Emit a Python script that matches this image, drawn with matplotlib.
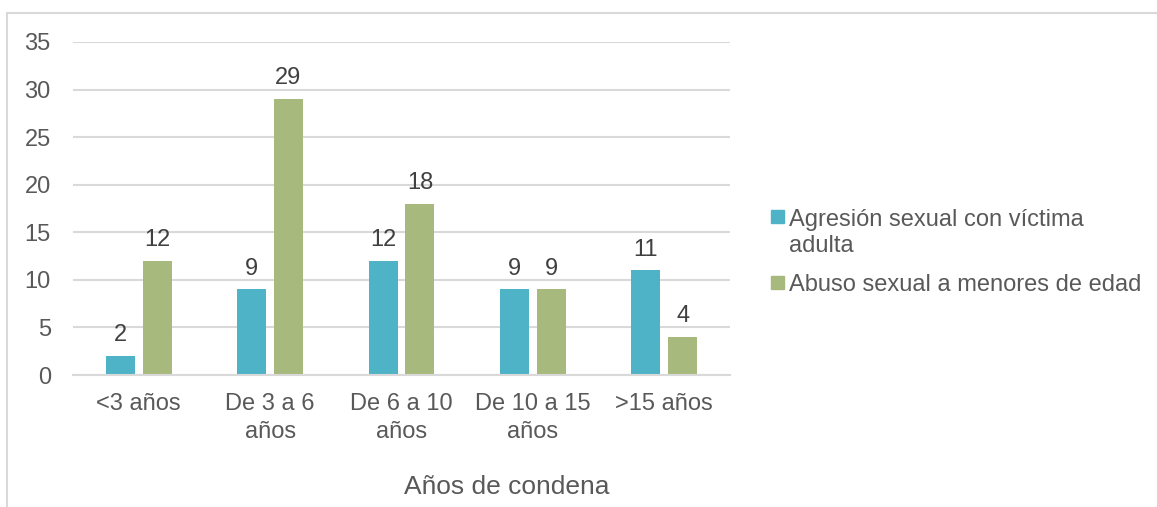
import matplotlib.pyplot as plt
import numpy as np
from matplotlib.patches import Rectangle

categories = ["<3 años", "De 3 a 6\naños", "De 6 a 10\naños", "De 10 a 15\naños", ">15 años"]
agresion = [2, 9, 12, 9, 11]
abuso = [12, 29, 18, 9, 4]
series_names = ["Agresión sexual con víctima\nadulta", "Abuso sexual a menores de edad"]

BLUE = "#4FB3C8"
GREEN = "#A8B97D"
GRID = "#D9D9D9"
TXT = "#595959"

plt.rcParams["font.family"] = ["Liberation Sans", "DejaVu Sans"]

W, H = 1157, 507
fig = plt.figure(figsize=(W / 100, H / 100), dpi=100)
ax = fig.add_axes([73 / W, 1 - 375 / H, (730 - 73) / W, (375 - 42) / H])

x = np.arange(len(categories))
width = 0.22
offset = 0.14
b1 = ax.bar(x - offset, agresion, width, color=BLUE, label=series_names[0])
b2 = ax.bar(x + offset, abuso, width, color=GREEN, label=series_names[1])

for bars in (b1, b2):
    for rect in bars:
        h = rect.get_height()
        ax.annotate(f"{h:g}", (rect.get_x() + rect.get_width() / 2, h),
                    xytext=(0, 7), textcoords="offset points",
                    ha="center", va="bottom", fontsize=17, color="#404040")

ax.set_xlim(-0.5, len(categories) - 0.5)
ax.set_ylim(0, 35)
ax.set_yticks(range(0, 36, 5))
ax.set_xticks(x)
ax.set_xticklabels(categories, linespacing=1.35)
ax.yaxis.grid(True, color=GRID, linewidth=1.5)
ax.set_axisbelow(True)
for side in ("top", "right", "left"):
    ax.spines[side].set_visible(False)
ax.spines["bottom"].set_color(GRID)
ax.spines["bottom"].set_linewidth(1.5)
ax.tick_params(axis="both", length=0, labelsize=17, colors=TXT)
ax.tick_params(axis="y", pad=16)
ax.tick_params(axis="x", pad=13)

fig.text(507 / W, 1 - 487 / H, "Años de condena", ha="center", va="center",
         fontsize=19, color=TXT)

# legend drawn by hand so the marker lines up with the first text line
legend_rows = [(225, BLUE, series_names[0]), (291, GREEN, series_names[1])]
for base_y, color, name in legend_rows:
    fig.patches.append(Rectangle((771 / W, 1 - (base_y - 2) / H), 13 / W, 13 / H,
                                 transform=fig.transFigure, color=color))
    n_lines = name.count("\n")
    fig.text(789 / W, 1 - (base_y + n_lines * 27) / H, name, ha="left",
             va="baseline", fontsize=17, color=TXT, linespacing=1.22,
             multialignment="left")

fig.patches.append(Rectangle((7 / W, -0.1), 1.2, 1 - 13 / H + 0.1,
                             transform=fig.transFigure, fill=False,
                             edgecolor=GRID, linewidth=1.5))

fig.savefig("out.png", dpi=100)
